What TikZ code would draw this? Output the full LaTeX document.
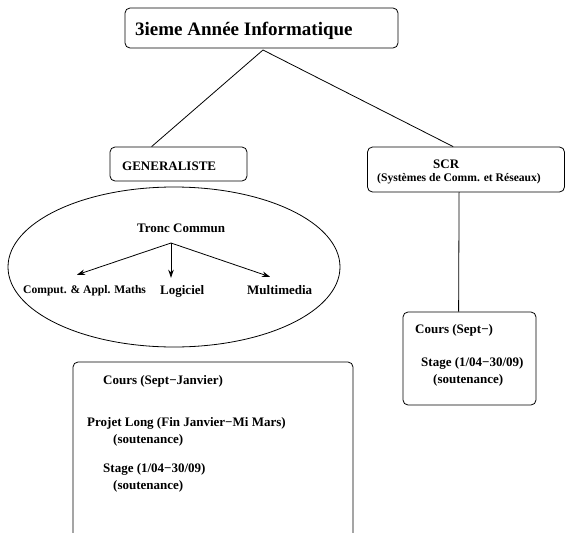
\documentclass[tikz,border=0pt]{standalone}
\usepackage{fontspec}
\setmainfont{Liberation Serif}
\usetikzlibrary{shapes.geometric,arrows.meta,calc}
\tikzset{
  box/.style={draw, rounded corners=5pt, inner sep=0pt, line width=0.8pt},
  txt/.style={anchor=base west, inner sep=0pt, font=\bfseries\fontsize{13}{15}\selectfont},
  small/.style={anchor=base west, inner sep=0pt, font=\bfseries\fontsize{11.6}{14}\selectfont},
  big/.style={anchor=base west, inner sep=0pt, font=\bfseries\fontsize{19}{22}\selectfont},
  link/.style={line width=0.8pt},
  arr/.style={line width=0.8pt, -{Stealth[length=8pt,width=5.5pt]}}
}
\begin{document}
\begin{tikzpicture}[x=1pt,y=-1pt]
\useasboundingbox (0,0) rectangle (566,533);
\clip (0,0) rectangle (566,533);
% boxes
\node[box, minimum width=273pt, minimum height=40pt] (top) at (261.5,28) {};
\node[box, minimum width=137pt, minimum height=34pt] (gen) at (178.5,164) {};
\node[box, minimum width=197pt, minimum height=45pt] (scr) at (466,169.5) {};
\node[box, minimum width=133pt, minimum height=93pt] (scrc) at (469.5,358.5) {};
\node[box, minimum width=280pt, minimum height=176pt] (genc) at (213,450) {};
\node[draw, ellipse, line width=0.8pt, minimum width=332pt, minimum height=160pt, inner sep=0pt] (tc) at (174,267) {};
% texts
\node[big] (ttl) at (135,35) {3ieme Année Informatique};
\node[txt] (tgen) at (122,170) {GENERALISTE};
\node[txt] (tscr) at (433,168) {SCR};
\node[small] (tscr2) at (377,181) {(Systèmes de Comm. et Réseaux)};
\node[txt] (ttc) at (137,232) {Tronc Commun};
\node[small] (comp) at (23,293) {Comput. \& Appl. Maths};
\node[txt] (logi) at (160,294) {Logiciel};
\node[txt] (multi) at (247,294) {Multimedia};
\node[txt] (c1) at (103,384) {Cours (Sept−Janvier)};
\node[txt] (c2) at (87,426) {Projet Long (Fin Janvier−Mi Mars)};
\node[txt] (c3) at (113,443) {(soutenance)};
\node[txt] (c4) at (103,472) {Stage (1/04−30/09)};
\node[txt] (c5) at (113,489) {(soutenance)};
\node[txt] (s1) at (415,333) {Cours (Sept−)};
\node[txt] (s2) at (421,366) {Stage (1/04−30/09)};
\node[txt] (s3) at (433,383) {(soutenance)};
% connectors
\coordinate (apex) at (263,50);
\draw[link] (apex) -- ($(gen.north west)+(42,0)$);
\draw[link] (apex) -- ($(scr.north west)+(86,0)$);
\draw[link] ($(scr.south west)+(92,0)$) -- ($(scrc.north west)+(56,0)$);
\coordinate (o) at (171,243);
\draw[arr] (o) -- ($(comp.north west)+(54,-10)$);
\draw[arr] (o) -- ($(logi.north west)+(11,-7)$);
\draw[arr] (o) -- ($(multi.north west)+(23,-8)$);
\end{tikzpicture}
\end{document}
